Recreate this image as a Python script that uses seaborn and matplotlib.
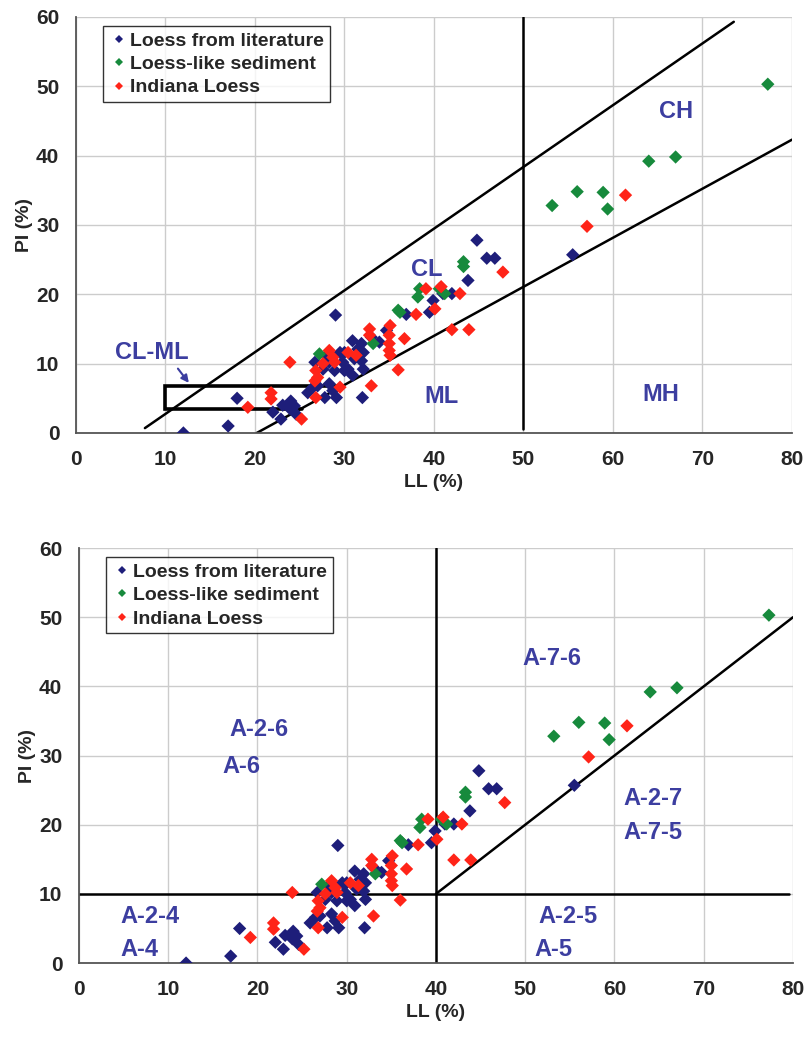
import pandas as pd
import matplotlib.pyplot as plt
import seaborn as sns

# Loess from literature
lit_ll = [12.0, 17.0, 18.0, 22.0, 22.9, 23.1, 23.9, 24.0, 24.4, 24.6, 25.9, 26.5, 27.0,
          26.7, 27.6, 27.8, 28.0, 28.3, 28.3, 28.7, 28.9, 29.0, 29.1, 29.5, 29.8, 30.0,
          30.0, 30.4, 30.9, 30.9, 31.1, 31.5, 31.9, 32.1, 31.9, 32.1, 32.0, 33.0, 33.9,
          34.7, 36.9, 39.5, 39.9, 41.0, 42.0, 43.8, 44.8, 45.9, 46.8, 55.5]
lit_pi = [0.0, 1.0, 5.0, 3.0, 2.0, 4.0, 3.5, 4.6, 3.9, 2.7, 5.8, 6.6, 6.8,
          10.2, 9.2, 5.1, 11.2, 10.2, 7.1, 6.1, 9.0, 17.0, 5.1, 11.6, 10.2, 11.6,
          9.0, 9.2, 13.3, 8.3, 10.7, 12.1, 12.9, 11.6, 10.4, 9.2, 5.1, 13.8, 13.1,
          14.8, 17.1, 17.4, 19.1, 20.1, 20.1, 22.0, 27.8, 25.2, 25.2, 25.7]

# Loess-like sediment
sed_ll = [27.2, 33.2, 36.0, 36.2, 38.2, 38.4, 40.6, 41.2, 43.3, 43.3, 53.2, 56.0,
          58.9, 59.4, 64.0, 67.0, 77.3]
sed_pi = [11.4, 12.9, 17.7, 17.4, 19.6, 20.8, 20.8, 20.1, 24.7, 24.0, 32.8, 34.8,
          34.7, 32.3, 39.2, 39.8, 50.3]

# Indiana Loess
ind_ll = [19.2, 21.8, 21.8, 23.9, 25.2, 26.7, 26.8, 26.8, 27.0, 27.6, 28.3, 28.7,
          28.9, 29.5, 30.4, 31.3, 32.8, 32.8, 33.0, 35.0, 35.1, 35.0, 35.0, 35.1,
          36.0, 36.7, 38.0, 39.1, 40.1, 40.8, 42.9, 42.0, 43.9, 47.7, 57.1, 61.4]
ind_pi = [3.7, 5.8, 4.9, 10.2, 2.0, 7.5, 9.0, 5.1, 8.0, 10.0, 11.9, 10.9,
          10.2, 6.6, 11.6, 11.2, 15.0, 14.1, 6.8, 14.1, 15.5, 12.9, 11.9, 11.2,
          9.1, 13.6, 17.1, 20.8, 17.9, 21.1, 20.1, 14.9, 14.9, 23.2, 29.8, 34.3]

groups = ["Loess from literature", "Loess-like sediment", "Indiana Loess"]
colors = ["#1e1e7a", "#178a3c", "#ff2418"]

df = pd.concat([
    pd.DataFrame({"LL": lit_ll, "PI": lit_pi, "group": groups[0]}),
    pd.DataFrame({"LL": sed_ll, "PI": sed_pi, "group": groups[1]}),
    pd.DataFrame({"LL": ind_ll, "PI": ind_pi, "group": groups[2]}),
])

sns.set_theme(style="white")
plt.rcParams["font.family"] = ["Liberation Sans", "DejaVu Sans"]
plt.rcParams["font.weight"] = "bold"

fig = plt.figure(figsize=(8.05, 10.4), dpi=100)
ax1 = fig.add_axes([0.0944, 0.5837, 0.8894, 0.4])
ax2 = fig.add_axes([0.0981, 0.0740, 0.8870, 0.399])

label_color = "#3c3ea0"

for ax in (ax1, ax2):
    ax.grid(True, color="#cccccc", linewidth=1.0)
    ax.set_axisbelow(True)
    sns.scatterplot(data=df, x="LL", y="PI", hue="group", hue_order=groups,
                    palette=colors, marker="D", s=46, linewidth=0, ax=ax,
                    zorder=3)
    ax.set_xlim(0, 80)
    ax.set_ylim(0, 60)
    ax.set_xticks(range(0, 81, 10))
    ax.set_yticks(range(0, 61, 10))
    for side in ("top", "right"):
        ax.spines[side].set_visible(False)
    for side in ("left", "bottom"):
        ax.spines[side].set_color("#555555")
        ax.spines[side].set_linewidth(1.3)
    ax.tick_params(direction="out", length=6, width=1.3, color="#555555",
                   labelsize=15, pad=6)
    for t in ax.get_xticklabels() + ax.get_yticklabels():
        t.set_fontweight("bold")
    ax.set_xlabel("LL (%)", fontsize=14, fontweight="bold", labelpad=4)
    ax.set_ylabel("PI (%)", fontsize=14, fontweight="bold", labelpad=2)
    leg = ax.legend(loc="upper left", bbox_to_anchor=(0.038, 0.978),
                    fontsize=14, frameon=True, fancybox=False, markerscale=0.6,
                    handletextpad=0.1, borderpad=0.3, labelspacing=0.3,
                    handlelength=1.0, borderaxespad=0)
    leg.get_frame().set_edgecolor("black")
    leg.get_frame().set_linewidth(1.0)
    for t in leg.get_texts():
        t.set_fontweight("bold")

# top: Casagrande plasticity chart
ax1.plot([20.2, 80], [0, 42.3], color="black", lw=1.8, zorder=2)
ax1.plot([7.7, 73.5], [0.7, 59.3], color="black", lw=1.8, zorder=2)
ax1.plot([50, 50], [0.6, 60], color="black", lw=1.8, zorder=2)
ax1.plot([25.2, 10, 10, 29.75], [3.5, 3.5, 6.7, 6.7], color="black", lw=2.6,
         zorder=2, solid_joinstyle="miter")
ax1.annotate("", xy=(12.8, 6.9), xytext=(11.2, 9.6),
             arrowprops=dict(arrowstyle="-|>", color=label_color, lw=1.5,
                             mutation_scale=11))
for txt, x, y in [("CH", 67.0, 46.3), ("CL", 39.2, 23.6), ("ML", 40.8, 5.2),
                  ("MH", 65.3, 5.5), ("CL-ML", 8.5, 11.6)]:
    ax1.text(x, y, txt, color=label_color, fontsize=17, fontweight="bold",
             ha="center", va="center")

# bottom: AASHTO chart
ax2.plot([0, 79.6], [10, 10], color="black", lw=1.8, zorder=2)
ax2.plot([40, 40], [0, 60], color="black", lw=1.8, zorder=2)
ax2.plot([40, 80], [10, 50], color="black", lw=1.8, zorder=2)
for txt, x, y in [("A-7-6", 53.0, 44.0), ("A-2-6", 20.2, 33.7), ("A-6", 18.2, 28.4),
                  ("A-2-7", 64.3, 23.8), ("A-7-5", 64.3, 18.9), ("A-2-4", 7.9, 6.7),
                  ("A-4", 6.8, 1.9), ("A-2-5", 54.8, 6.7), ("A-5", 53.2, 1.9)]:
    ax2.text(x, y, txt, color=label_color, fontsize=17, fontweight="bold",
             ha="center", va="center")

fig.savefig("out.png", dpi=100)
